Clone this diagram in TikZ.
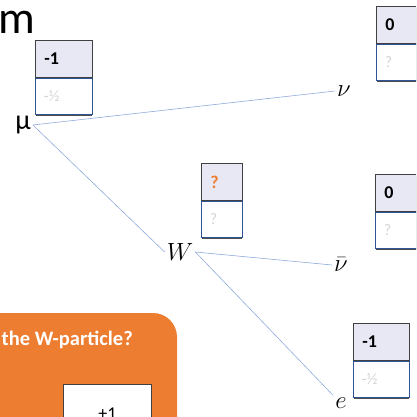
\documentclass[tikz,border=0pt]{standalone}
\usepackage{fontspec}
\setmainfont{Carlito}
\usetikzlibrary{positioning}

\definecolor{cellfill}{RGB}{232,232,244}
\definecolor{cellblue}{RGB}{47,85,151}
\definecolor{wireblue}{RGB}{143,170,220}
\definecolor{qorange}{RGB}{237,125,49}
\definecolor{hintgray}{RGB}{212,212,212}

\begin{document}
\begin{tikzpicture}[x=1pt, y=-1pt,
    wire/.style={wireblue, line width=0.6pt},
    particle/.style={font=\fontsize{30}{32}\selectfont, inner sep=2pt},
    topcell/.style={draw=black!75, line width=0.8pt, fill=cellfill, anchor=north west, minimum height=37pt, inner xsep=9pt, inner ysep=0pt, align=left, font=\fontsize{18}{20}\selectfont\bfseries},
    botcell/.style={draw=cellblue, line width=0.8pt, fill=white, anchor=north west, minimum height=36pt, inner xsep=9pt, inner ysep=0pt, align=left, text=hintgray, font=\fontsize{16}{18}\selectfont}]

    % page frame
    \useasboundingbox (0,0) rectangle (416,417);
    \clip (0,0) rectangle (416,417);

    % title (cut at the left edge)
    \node[font=\fontsize{46}{48}\selectfont, anchor=base east, inner sep=0pt] (title) at (35,34) {m};

    % 1. charge boxes: upper cell = known charge, lower cell = hint
    \foreach \name/\bx/\by/\bw/\upper/\lower/\upcol in {
        mu/35/40/57/{-1}/{-½}/black,
        W/201/163/41/?/?/qorange,
        nu/376/6/57/0/?/black,
        nubar/375/174/57/0/?/black,
        e/353/323/56/{-1}/{-½}/black}
    {
        \pgfmathsetmacro{\tw}{\bw - 18}
        % shadow under the box
        \fill[black!70] (\bx + 1, \by + 2) rectangle (\bx + \bw, \by + 76);
        \node[topcell, text=\upcol, text width=\tw pt] (\name top) at (\bx, \by) {\upper};
        \node[botcell, text width=\tw pt] (\name bot) at (\bx - 0.5, \by + 38) {\lower};
    }

    % 2. particles
    \node[particle, font=\fontsize{28}{30}\selectfont] (mu) at (23,125) {μ};
    \node[particle] (nu)    at (344,91)  {$\nu$};
    \node[particle] (W)     at (180,252) {$W$};
    \node[particle] (nubar) at (341,265) {$\bar{\nu}$};
    \node[particle] (e)     at (341,403) {$e$};

    % 3. decay lines
    \draw[wire] (mu.east) -- (nu.west);
    \draw[wire] (mu.east) -- (W.west);
    \draw[wire] (W.east) -- (nubar.west);
    \draw[wire] (W.east) -- (e.north west);

    % 4. question panel
    \fill[qorange, rounded corners=24pt] (-30,313) rectangle (177,460);
    \node[anchor=base east, inner sep=0pt, text=white, font=\fontsize{20.5}{22}\selectfont\bfseries] (question) at (133,345) {of the W-particle?};
    \node[draw=black!75, line width=0.8pt, fill=white, anchor=north west, minimum width=88pt, minimum height=58pt, font=\fontsize{18}{20}\selectfont] (answer) at (63,384) {+1};

\end{tikzpicture}
\end{document}
